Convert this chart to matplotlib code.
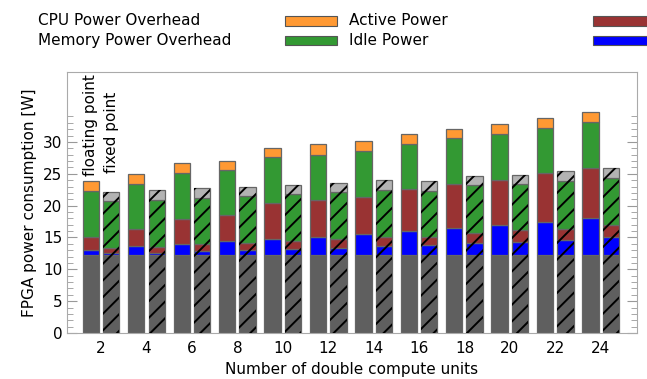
import numpy as np
from matplotlib import pyplot as plt
from matplotlib.patches import Rectangle

# number of double compute units
units = [2, 4, 6, 8, 10, 12, 14, 16, 18, 20, 22, 24]

# cumulative tops of each stacked segment [W]
# floating point (solid bars)
flt_static = [12.2] * 12
flt_mem = [13.1, 13.6, 14.0, 14.4, 14.7, 15.1, 15.5, 16.0, 16.5, 17.0, 17.5, 18.0]
flt_cpu = [15.1, 16.3, 17.9, 18.5, 20.4, 20.9, 21.3, 22.6, 23.4, 24.0, 25.1, 25.9]
flt_idle = [22.3, 23.4, 25.1, 25.6, 27.6, 28.0, 28.6, 29.7, 30.6, 31.2, 32.2, 33.1]
flt_active = [23.8, 25.0, 26.7, 27.0, 29.0, 29.7, 30.1, 31.3, 32.1, 32.8, 33.8, 34.7]

# fixed point (hatched bars)
fix_static = [12.2] * 12
fix_mem = [12.5, 12.5, 12.8, 13.0, 13.2, 13.4, 13.6, 13.8, 14.1, 14.3, 14.6, 15.0]
fix_cpu = [13.3, 13.5, 13.9, 14.2, 14.5, 14.8, 15.1, 15.0, 15.7, 16.2, 16.4, 16.9]
fix_idle = [20.8, 20.9, 21.2, 21.5, 21.8, 22.1, 22.5, 22.3, 23.2, 23.4, 23.8, 24.3]
fix_active = [22.2, 22.4, 22.7, 23.0, 23.3, 23.6, 24.0, 23.8, 24.6, 24.8, 25.4, 25.9]

c_static = '#5f5f5f'
c_mem = '#0000ff'
c_cpu = '#993333'
c_idle = '#339933'
c_active = '#ff9933'
c_active_fix = '#b3b3b3'

plt.rcParams['font.family'] = 'DejaVu Sans'
plt.rcParams['font.size'] = 11
plt.rcParams['hatch.linewidth'] = 1.4

fig = plt.figure(figsize=(6.47, 3.79), dpi=100)
ax = fig.add_axes([0.1036, 0.1214, 0.881, 0.689])

x = np.array(units, dtype=float)
w = 0.72
off = 0.45


def stack(xpos, tops, colors, hatch=None):
  bottom = np.zeros(len(xpos))
  for t, c in zip(tops, colors):
    t = np.array(t)
    ax.bar(xpos, t - bottom, w, bottom=bottom, color=c, edgecolor='#666666', linewidth=0.9, zorder=2)
    if hatch:
      ax.bar(xpos, t - bottom, w, bottom=bottom, color='none', edgecolor='black', linewidth=0, hatch=hatch, zorder=3)
    bottom = t


stack(x - off, [flt_static, flt_mem, flt_cpu, flt_idle, flt_active],
      [c_static, c_mem, c_cpu, c_idle, c_active])
stack(x + off, [fix_static, fix_mem, fix_cpu, fix_idle, fix_active],
      [c_static, c_mem, c_cpu, c_idle, c_active_fix], hatch='//')

ax.text(units[0] - off, 24.6, 'floating point', rotation=90, ha='center', va='bottom', fontsize=11)
ax.text(units[0] + off, 25.1, 'fixed point', rotation=90, ha='center', va='bottom', fontsize=11)

ax.set_xlim(0.5, 25.6)
ax.set_ylim(0, 41)
ax.set_xticks(units)
ax.set_yticks(range(0, 35, 5))
ax.set_yticks([v for v in range(0, 35) if v % 5], minor=True)
ax.tick_params(axis='x', length=0, pad=6)
ax.tick_params(axis='y', which='both', direction='in', right=True, colors='#999999', labelcolor='black')
ax.tick_params(axis='y', which='major', length=7)
ax.tick_params(axis='y', which='minor', length=4)
for s in ax.spines.values():
  s.set_color('#aaaaaa')

ax.set_xlabel('Number of double compute units', labelpad=4)
ax.set_ylabel('FPGA power consumption [W]')

# legend drawn by hand to keep the odd layout of the original
for txt, yy in [('CPU Power Overhead', 0.945), ('Memory Power Overhead', 0.893)]:
  fig.text(38 / 647, yy, txt, va='center', ha='left')
for txt, col, yy in [('Active Power', c_active, 0.945), ('Idle Power', c_idle, 0.893)]:
  fig.patches.append(Rectangle((285 / 647, yy - 0.013), 52 / 647, 0.026, transform=fig.transFigure,
                               facecolor=col, edgecolor='#555555', linewidth=0.8))
  fig.text(349 / 647, yy, txt, va='center', ha='left')
for col, yy in [(c_cpu, 0.945), (c_mem, 0.893)]:
  fig.patches.append(Rectangle((593 / 647, yy - 0.013), 60 / 647, 0.026, transform=fig.transFigure,
                               facecolor=col, edgecolor='#555555', linewidth=0.8))

fig.savefig('out.png', dpi=100)
